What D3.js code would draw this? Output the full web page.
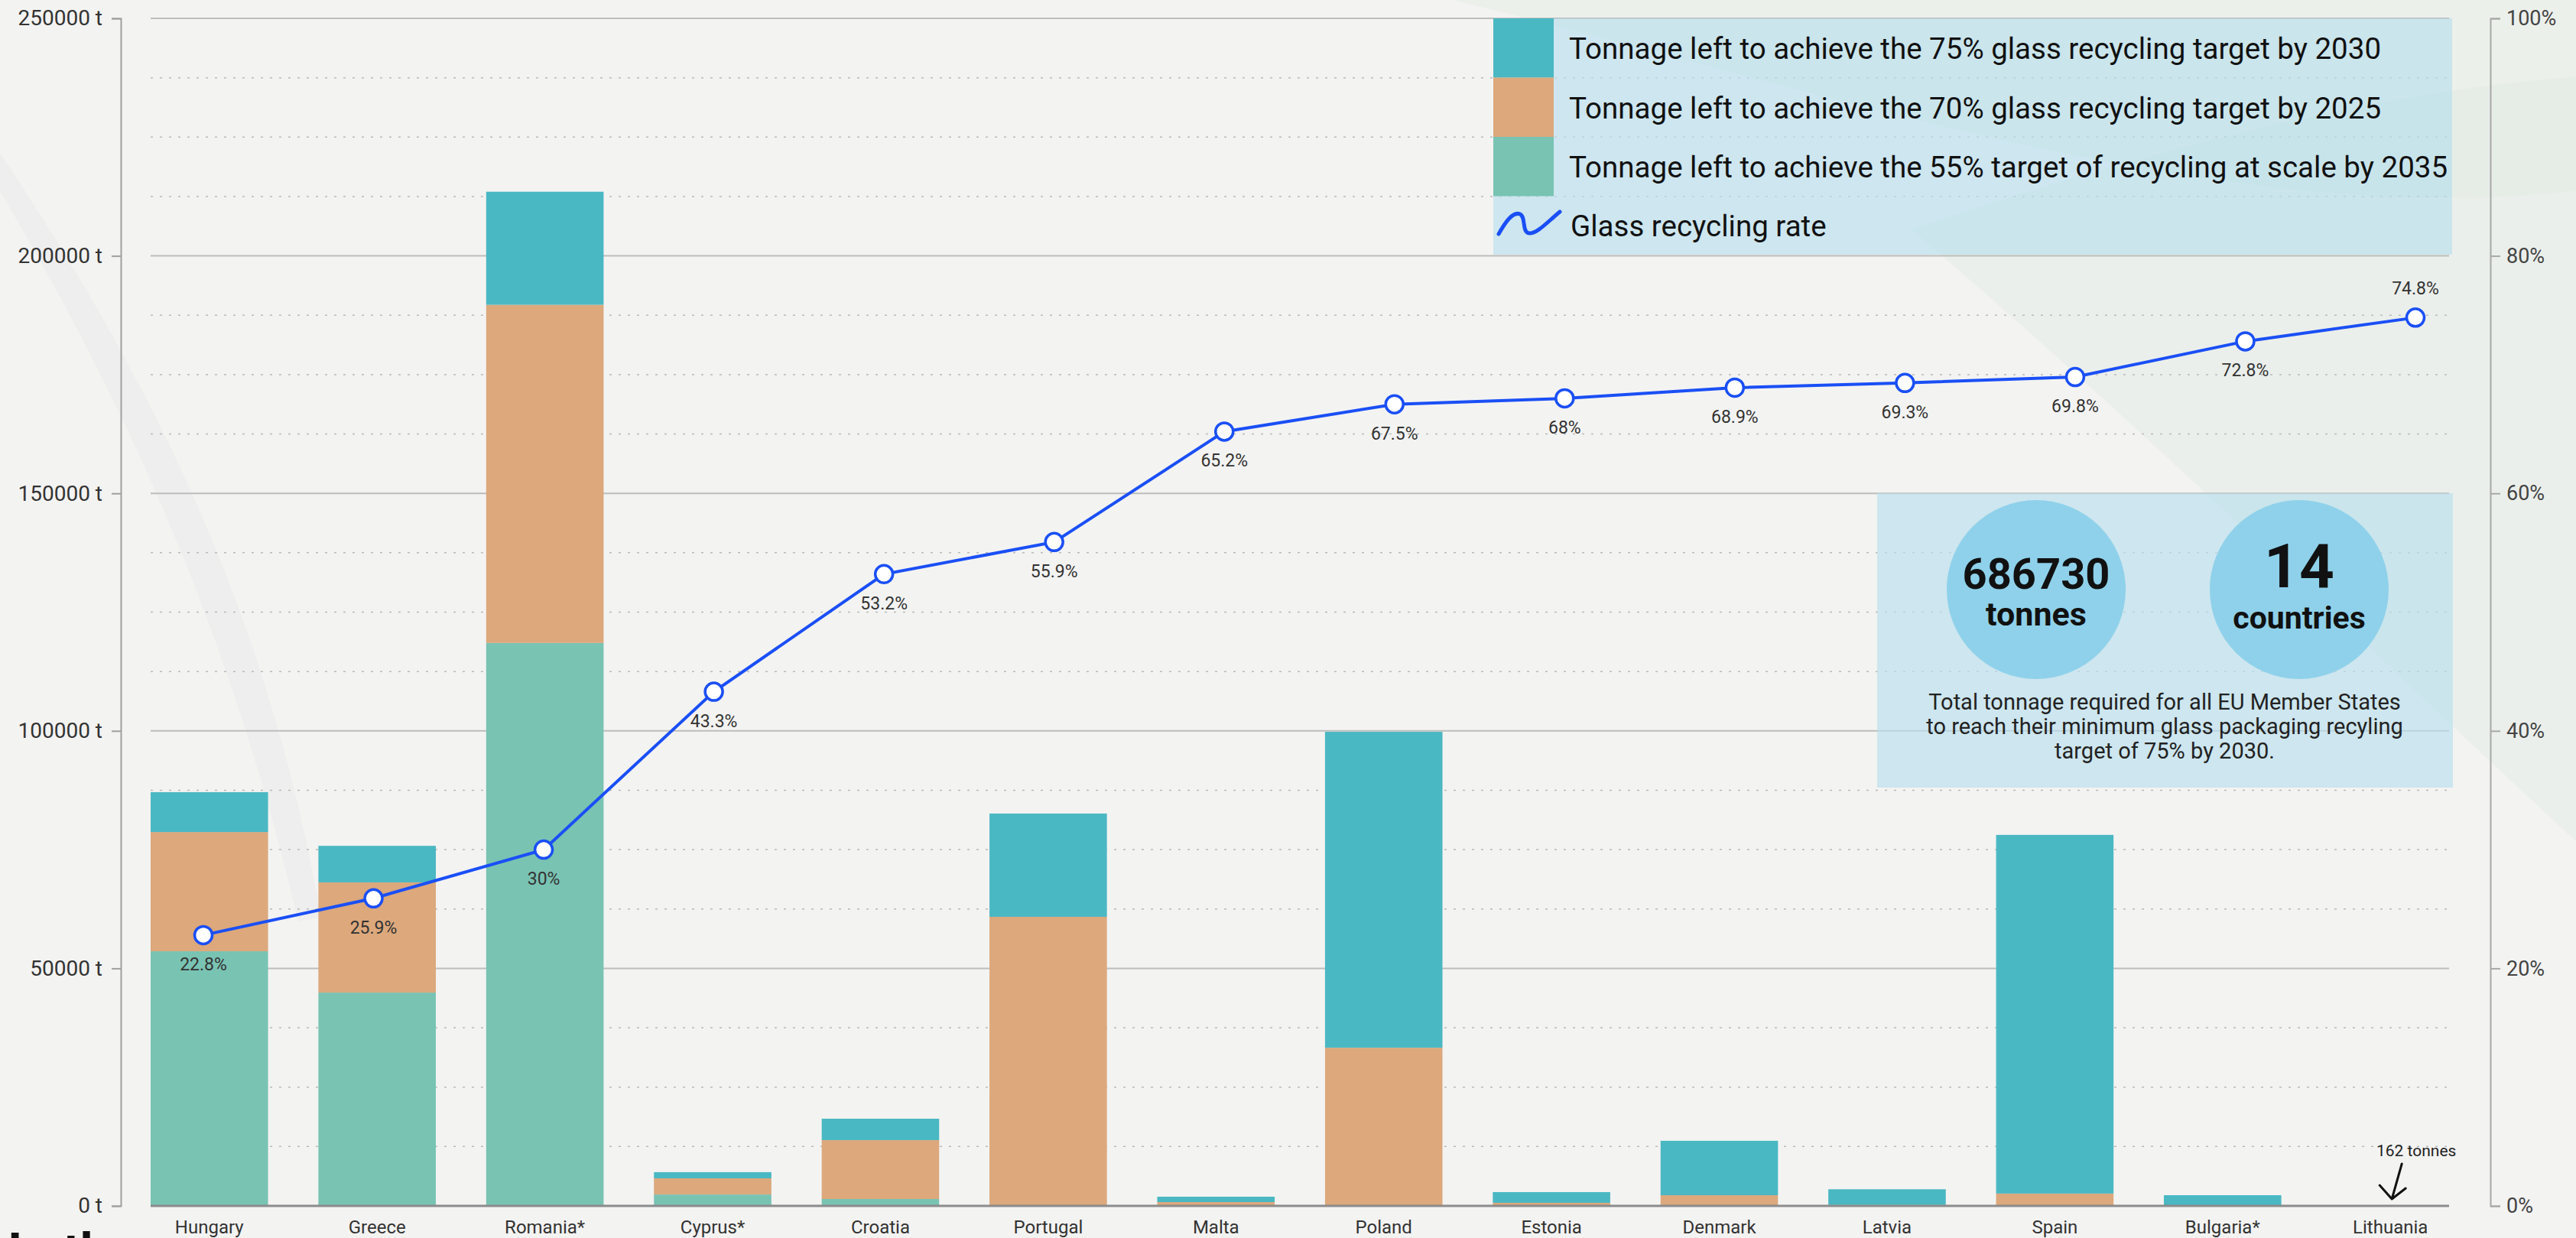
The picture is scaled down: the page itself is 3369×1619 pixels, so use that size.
<!DOCTYPE html>
<html>
<head>
<meta charset="utf-8">
<script src="https://cdn.jsdelivr.net/npm/d3@7"></script>
<style>
    html, body { margin: 0; padding: 0; background: #f2f2f1; overflow: hidden; }
    svg { display: block; font-family: Roboto, "Noto Sans", sans-serif; }
</style>
</head>
<body>
<svg id="chart" width="3369" height="1619"></svg>
<script>
// ---- data ----
var countries = ["Hungary", "Greece", "Romania*", "Cyprus*", "Croatia", "Portugal", "Malta",
                 "Poland", "Estonia", "Denmark", "Latvia", "Spain", "Bulgaria*", "Lithuania"];
// tonnes left to reach each target (stacked, bottom to top)
var target55 = [53600, 44900, 118500, 2400, 1450, 0, 0, 0, 0, 0, 0, 0, 0, 0];
var target70 = [25100, 23200, 71200, 3400, 12400, 60850, 800, 33300, 650, 2250, 200, 2600, 0, 0];
var target75 = [8400, 7700, 23800, 1300, 4500, 21750, 1130, 66500, 2250, 11450, 3300, 75500, 2250, 162];
// glass recycling rate, %
var recyclingRate = [22.8, 25.9, 30, 43.3, 53.2, 55.9, 65.2, 67.5, 68, 68.9, 69.3, 69.8, 72.8, 74.8];

var tonneTicks = [0, 50000, 100000, 150000, 200000, 250000];
var pctTicks = [0, 20, 40, 60, 80, 100];

var seriesKeys = ["t55", "t70", "t75"];
var seriesLabels = {
    t75: "Tonnage left to achieve the 75% glass recycling target by 2030",
    t70: "Tonnage left to achieve the 70% glass recycling target by 2025",
    t55: "Tonnage left to achieve the 55% target of recycling at scale by 2035"
};
var seriesColors = { t55: "#79c3b3", t70: "#dca87c", t75: "#4ab8c3" };
var lineColor = "#1a4ff5";

var totalTonnes = 686730;
var countryCount = 14;
var noteLines = ["Total tonnage required for all EU Member States",
                 "to reach their minimum glass packaging recyling",
                 "target of 75% by 2030."];

// ---- layout ----
var width = 3369, height = 1619;
var plotLeft = 197, plotRight = 3203, plotTop = 24, plotBottom = 1577;

var svg = d3.select("#chart");

// background paper + faint leaves
svg.append("rect").attr("width", width).attr("height", height).attr("fill", "#f3f3f2");
var bg = svg.append("g").attr("class", "bg");
bg.append("path")
    .attr("d", "M1900,0 C2400,120 2900,300 3369,250 L3369,0 Z")
    .attr("fill", "#dfeadf").attr("opacity", 0.35);
bg.append("path")
    .attr("d", "M2500,300 C2800,200 3100,120 3369,100 L3369,1100 C3150,900 2850,600 2500,300 Z")
    .attr("fill", "#dde9df").attr("opacity", 0.35);
bg.append("path")
    .attr("d", "M0,200 C200,500 350,800 420,1200 L390,1205 C300,820 160,520 0,250 Z")
    .attr("fill", "#e4e4e4").attr("opacity", 0.3);

var rows = countries.map(function(c, i) {
    return { country: c, t55: target55[i], t70: target70[i], t75: target75[i], rate: recyclingRate[i] };
});

var x = d3.scaleBand().domain(countries).range([plotLeft, plotRight]).paddingInner(0.3).paddingOuter(0);
var xPoint = d3.scalePoint().domain(countries).range([266, 3159]);
var y = d3.scaleLinear().domain([0, 250000]).range([plotBottom, plotTop]);
var yPct = d3.scaleLinear().domain([0, 100]).range([plotBottom, plotTop]);

// gridlines
var grid = svg.append("g").attr("class", "grid");
grid.selectAll("line.minor")
    .data(d3.range(0, 250001, 12500).filter(function(v) { return v % 50000 !== 0; }))
    .enter().append("line")
    .attr("x1", plotLeft).attr("x2", plotRight)
    .attr("y1", function(d) { return y(d); }).attr("y2", function(d) { return y(d); })
    .attr("stroke", "#b9b9b9").attr("stroke-width", 1.5).attr("stroke-dasharray", "3,9");
grid.selectAll("line.major")
    .data(tonneTicks.filter(function(v) { return v > 0; }))
    .enter().append("line")
    .attr("x1", plotLeft).attr("x2", plotRight)
    .attr("y1", function(d) { return y(d); }).attr("y2", function(d) { return y(d); })
    .attr("stroke", "#bdbdbd").attr("stroke-width", 2);

// legend box
var legendBox = svg.append("g").attr("class", "legend");
legendBox.append("rect")
    .attr("x", 1953).attr("y", 24).attr("width", 1254).attr("height", 309)
    .attr("fill", "#b9dfec").attr("opacity", 0.65);

// info box
var info = svg.append("g").attr("class", "info");
info.append("rect")
    .attr("x", 2455).attr("y", 645).attr("width", 753).attr("height", 385)
    .attr("fill", "#b9dfec").attr("opacity", 0.65);

// stacked bars
var stack = d3.stack().keys(seriesKeys);
var stacked = stack(rows);

svg.append("g").attr("class", "bars")
    .selectAll("g")
    .data(stacked)
    .enter().append("g")
    .attr("fill", function(d) { return seriesColors[d.key]; })
    .selectAll("rect")
    .data(function(d) { return d; })
    .enter().append("rect")
    .attr("x", function(d) { return x(d.data.country); })
    .attr("width", x.bandwidth())
    .attr("y", function(d) { return y(d[1]); })
    .attr("height", function(d) { return Math.max(0, y(d[0]) - y(d[1])); });

// baseline
svg.append("line")
    .attr("x1", plotLeft).attr("x2", plotRight)
    .attr("y1", plotBottom).attr("y2", plotBottom)
    .attr("stroke", "#8c8c8c").attr("stroke-width", 3);

// left axis
var leftAxisG = svg.append("g").attr("transform", "translate(158,0)");
leftAxisG.call(d3.axisLeft(y).tickValues(d3.range(0, 250001, 12500)).tickSize(7).tickFormat(""));
leftAxisG.call(d3.axisLeft(y).tickValues(tonneTicks).tickSize(12).tickPadding(12)
    .tickFormat(function(d) { return d + " t"; }));
leftAxisG.selectAll("path, line").attr("stroke", "#a0a0a0").attr("stroke-width", 2);
leftAxisG.selectAll("text").attr("font-size", 28).attr("fill", "#333").attr("font-family", "Roboto");

// right axis
var rightAxisG = svg.append("g").attr("transform", "translate(3257,0)");
rightAxisG.call(d3.axisRight(yPct).tickValues(d3.range(0, 101, 5)).tickSize(10).tickFormat(""));
rightAxisG.call(d3.axisRight(yPct).tickValues(pctTicks).tickSize(13).tickPadding(8)
    .tickFormat(function(d) { return d + "%"; }));
rightAxisG.selectAll("path, line").attr("stroke", "#a8a8a8").attr("stroke-width", 2);
rightAxisG.selectAll("text").attr("font-size", 27).attr("fill", "#444").attr("font-family", "Roboto");

// category axis
var xAxisG = svg.append("g").attr("transform", "translate(0," + plotBottom + ")");
xAxisG.call(d3.axisBottom(x).tickSize(0).tickPadding(19));
xAxisG.select(".domain").remove();
xAxisG.selectAll("text").attr("font-size", 24).attr("fill", "#333").attr("font-family", "Roboto");

// recycling rate line
var line = d3.line()
    .x(function(d) { return xPoint(d.country); })
    .y(function(d) { return yPct(d.rate); });

svg.append("path")
    .datum(rows)
    .attr("d", line)
    .attr("fill", "none")
    .attr("stroke", lineColor)
    .attr("stroke-width", 4);

svg.append("g").selectAll("circle")
    .data(rows)
    .enter().append("circle")
    .attr("cx", function(d) { return xPoint(d.country); })
    .attr("cy", function(d) { return yPct(d.rate); })
    .attr("r", 11.5)
    .attr("fill", "#fff")
    .attr("stroke", lineColor)
    .attr("stroke-width", 3.5);

svg.append("g").selectAll("text")
    .data(rows)
    .enter().append("text")
    .attr("x", function(d) { return xPoint(d.country); })
    .attr("y", function(d, i) { return yPct(d.rate) + (i === rows.length - 1 ? -30 : 46); })
    .attr("text-anchor", "middle")
    .attr("font-size", 23)
    .attr("fill", "#333")
    .text(function(d) { return d.rate + "%"; });

// legend content
var legendOrder = ["t75", "t70", "t55"];
legendOrder.forEach(function(k, i) {
    var top = 24 + i * 77.5;
    legendBox.append("rect")
        .attr("x", 1953).attr("y", top).attr("width", 79).attr("height", 77.5)
        .attr("fill", seriesColors[k]);
    legendBox.append("text")
        .attr("x", 2052).attr("y", top + 53)
        .attr("font-size", 38.5).attr("fill", "#111")
        .text(seriesLabels[k]);
});
legendBox.append("path")
    .attr("d", "M1960,306 C1968,292 1978,276 1988,280 C1996,284 1990,304 2000,305 C2010,306 2024,290 2040,277")
    .attr("fill", "none").attr("stroke", lineColor).attr("stroke-width", 5).attr("stroke-linecap", "round");
legendBox.append("text")
    .attr("x", 2054).attr("y", 309)
    .attr("font-size", 38.5).attr("fill", "#111")
    .text("Glass recycling rate");

// info content
info.append("ellipse").attr("cx", 2663).attr("cy", 771).attr("rx", 117).attr("ry", 117).attr("fill", "#8fd1ea");
info.append("ellipse").attr("cx", 3007).attr("cy", 771).attr("rx", 117).attr("ry", 117).attr("fill", "#8fd1ea");
info.append("text").attr("x", 2663).attr("y", 770).attr("text-anchor", "middle")
    .attr("font-size", 56).attr("font-weight", "bold").attr("fill", "#111").text(totalTonnes);
info.append("text").attr("x", 2663).attr("y", 818).attr("text-anchor", "middle")
    .attr("font-size", 43).attr("font-weight", "bold").attr("fill", "#111").text("tonnes");
info.append("text").attr("x", 3007).attr("y", 768).attr("text-anchor", "middle")
    .attr("font-size", 80).attr("font-weight", "bold").attr("fill", "#111").text(countryCount);
info.append("text").attr("x", 3007).attr("y", 822).attr("text-anchor", "middle")
    .attr("font-size", 41).attr("font-weight", "bold").attr("fill", "#111").text("countries");
info.selectAll("text.note")
    .data(noteLines)
    .enter().append("text")
    .attr("class", "note")
    .attr("x", 2831)
    .attr("y", function(d, i) { return 928 + i * 32; })
    .attr("text-anchor", "middle")
    .attr("font-size", 29).attr("fill", "#222")
    .text(function(d) { return d; });

// Lithuania annotation
var lx = x("Lithuania") + x.bandwidth() / 2;
svg.append("text")
    .attr("x", lx + 34).attr("y", 1512)
    .attr("text-anchor", "middle").attr("font-size", 21).attr("fill", "#222")
    .text("162 tonnes");
svg.append("path")
    .attr("d", "M" + (lx + 15) + ",1522 L" + (lx + 2) + ",1568 M" + (lx - 14) + ",1550 L" + (lx + 2) + ",1568 L" + (lx + 20) + ",1554")
    .attr("fill", "none").attr("stroke", "#111").attr("stroke-width", 3).attr("stroke-linecap", "round").attr("stroke-linejoin", "round");

// heading of the next section, cut off by the bottom edge
svg.append("text")
    .attr("x", 10).attr("y", 1660)
    .attr("font-size", 66).attr("font-weight", "bold").attr("fill", "#111")
    .text("In th");
</script>
</body>
</html>
